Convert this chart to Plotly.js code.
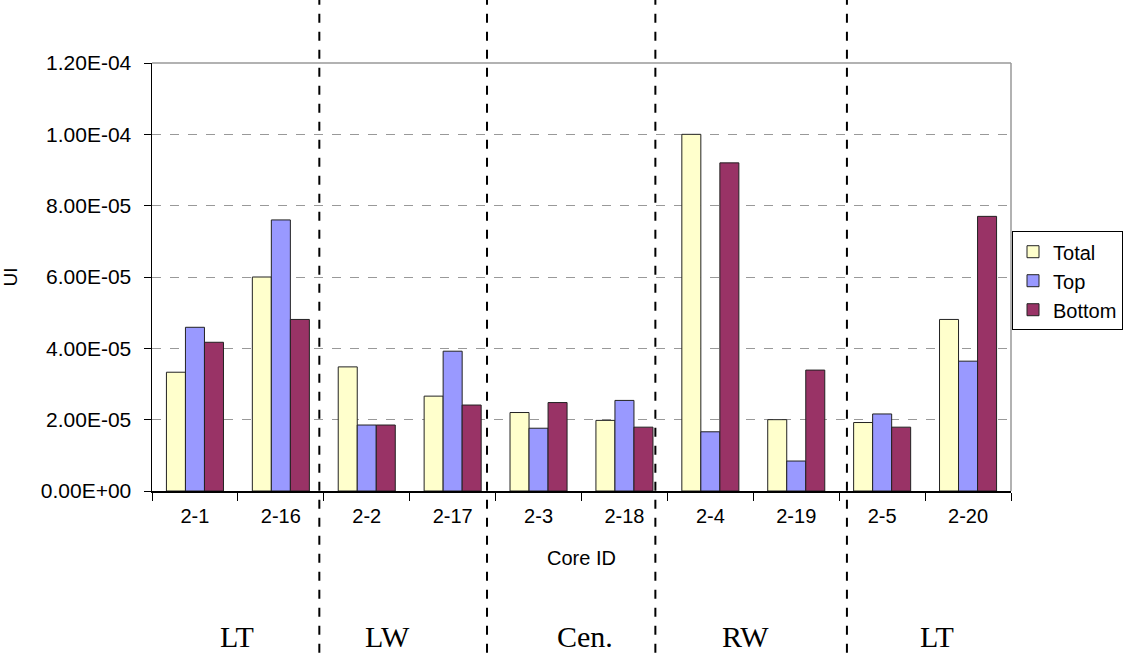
<!DOCTYPE html>
<html>
<head>
<meta charset="utf-8">
<script src="https://cdn.plot.ly/plotly-3.0.1.min.js"></script>
<style>html,body{margin:0;padding:0;background:#fff;}#chart{width:1127px;height:661px;}</style>
</head>
<body>
<div id="chart"></div>
<script>
const categories = ["2-1","2-16","2-2","2-17","2-3","2-18","2-4","2-19","2-5","2-20"];
const totalVals  = [3.33e-5, 6.00e-5, 3.48e-5, 2.66e-5, 2.20e-5, 1.98e-5, 1.00e-4, 2.00e-5, 1.92e-5, 4.81e-5];
const topVals    = [4.59e-5, 7.60e-5, 1.85e-5, 3.92e-5, 1.76e-5, 2.54e-5, 1.66e-5, 0.84e-5, 2.16e-5, 3.64e-5];
const bottomVals = [4.17e-5, 4.81e-5, 1.85e-5, 2.41e-5, 2.48e-5, 1.79e-5, 9.20e-5, 3.39e-5, 1.79e-5, 7.70e-5];
const yTickVals  = [0, 2e-5, 4e-5, 6e-5, 8e-5, 1e-4, 1.2e-4];
const yTickText  = ["0.00E+00","2.00E-05","4.00E-05","6.00E-05","8.00E-05","1.00E-04","1.20E-04"];
const regionLabels = ["LT","LW","Cen.","RW","LT"];
const regionCenters = [0.49, 2.24, 4.54, 6.41, 8.64];
const dividers = [1.448, 3.40, 5.36, 7.59];

const lineStyle = {color:'#222', width:1};
const traces = [
  {type:'bar', name:'Total', x:categories, y:totalVals, marker:{color:'#FFFFCC', line:lineStyle}},
  {type:'bar', name:'Top', x:categories, y:topVals, marker:{color:'#9999FF', line:lineStyle}},
  {type:'bar', name:'Bottom', x:categories, y:bottomVals, marker:{color:'#993366', line:lineStyle}}
];

const shapes = [];
shapes.push({type:'line', xref:'paper', yref:'paper', x0:0, x1:1, y0:1, y1:1, line:{color:'#999', width:1.5}});
shapes.push({type:'line', xref:'paper', yref:'paper', x0:1, x1:1, y0:0, y1:1, line:{color:'#999', width:1.5}});
dividers.forEach(d => shapes.push({type:'line', xref:'x', yref:'paper', x0:d, x1:d, y0:-0.42, y1:1.16, line:{color:'#000', width:2, dash:'dash'}}));

const annotations = regionLabels.map((t,i) => ({
  text:t, xref:'x', yref:'paper', x:regionCenters[i], y:-0.339, showarrow:false,
  font:{family:'Liberation Serif, Times New Roman, serif', size:30, color:'#000'}, yanchor:'middle'
}));

const layout = {
  width:1127, height:661,
  margin:{l:152, r:116, t:63, b:170, autoexpand:false},
  paper_bgcolor:'#fff', plot_bgcolor:'#fff',
  font:{family:'Liberation Sans, Arial, sans-serif', size:20, color:'#000'},
  barmode:'group', bargap:0.336, bargroupgap:0,
  showlegend:true,
  legend:{x:1.1304, y:0.607, xanchor:'right', yanchor:'top', bordercolor:'#000', borderwidth:1,
          font:{size:20, family:'Liberation Sans, Arial, sans-serif'}, tracegroupgap:0, itemwidth:30, bgcolor:'#fff'},
  xaxis:{type:'category', showline:true, linecolor:'#000', linewidth:1.5, ticks:'outside', ticklen:8, tickcolor:'#000',
         tickson:'boundaries', showgrid:false, zeroline:false, tickfont:{size:20}, ticklabelstandoff:6,
         title:{text:'Core ID', font:{size:20}, standoff:25}},
  yaxis:{range:[0,1.2e-4], tickvals:yTickVals, ticktext:yTickText, showline:true, linecolor:'#000', linewidth:1.5,
         ticks:'outside', ticklen:7, tickcolor:'#000', showgrid:true, gridcolor:'#999', griddash:'dash', gridwidth:1,
         zeroline:false, tickfont:{size:21}, ticklabelstandoff:8, title:{text:'UI', font:{size:19}, standoff:18}},
  shapes:shapes, annotations:annotations
};
Plotly.newPlot('chart', traces, layout, {displayModeBar:false, staticPlot:true});
</script>
</body>
</html>
